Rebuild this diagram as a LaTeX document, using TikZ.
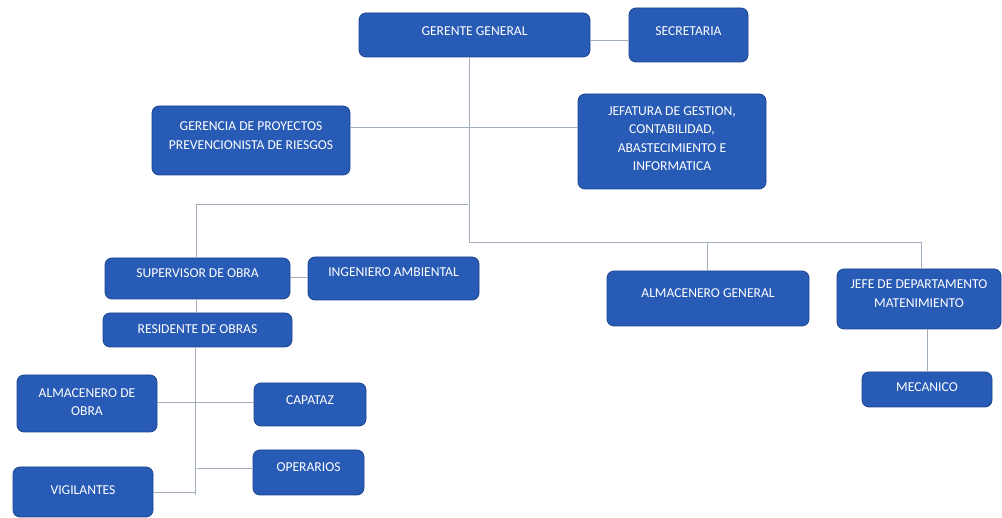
\documentclass[tikz,border=0pt]{standalone}
\usepackage{fontspec}
\setmainfont{Carlito}
\begin{document}
\begin{tikzpicture}[x=1pt,y=-1pt,
  box/.style={draw=boxline,fill=boxfill,rounded corners=7pt,line width=0.8pt,inner sep=0pt},
  txt/.style={text=white,font=\fontsize{13.6}{18.5}\selectfont,align=center,inner sep=0pt},
  conn/.style={draw=linecol,line width=1pt}]
\definecolor{boxfill}{RGB}{40,91,182}
\definecolor{boxline}{RGB}{30,68,140}
\definecolor{linecol}{RGB}{160,174,188}
\useasboundingbox (0,0) rectangle (1002,518);
% boxes
\node[box,minimum width=231pt,minimum height=44pt] (gg) at (474.5,35) {};
\node[box,minimum width=119pt,minimum height=54pt] (sec) at (688.5,35) {};
\node[box,minimum width=198pt,minimum height=69pt] (ger) at (251,140.5) {};
\node[box,minimum width=188pt,minimum height=95pt] (jef) at (672,141.5) {};
\node[box,minimum width=185pt,minimum height=41pt] (sup) at (197.5,278.5) {};
\node[box,minimum width=171pt,minimum height=43pt] (ing) at (393.5,278.5) {};
\node[box,minimum width=189pt,minimum height=34pt] (res) at (197.5,330) {};
\node[box,minimum width=202pt,minimum height=55pt] (alg) at (708,298.5) {};
\node[box,minimum width=164pt,minimum height=60pt] (jdm) at (919,299) {};
\node[box,minimum width=130pt,minimum height=35pt] (mec) at (927,389.5) {};
\node[box,minimum width=140pt,minimum height=57pt] (alo) at (87,403.5) {};
\node[box,minimum width=112pt,minimum height=43pt] (cap) at (310,404.5) {};
\node[box,minimum width=111pt,minimum height=45pt] (ope) at (308.5,472.5) {};
\node[box,minimum width=140pt,minimum height=50pt] (vig) at (83,492) {};
% texts
\node[txt] (ggt) at (474.5,31) {GERENTE GENERAL};
\node[txt] (sect) at (688.5,31) {SECRETARIA};
\node[txt] (gert) at (251,135.5) {GERENCIA DE PROYECTOS\\PREVENCIONISTA DE RIESGOS};
\node[txt] (jeft) at (672,138.5) {JEFATURA DE GESTION,\\CONTABILIDAD,\\ABASTECIMIENTO E\\INFORMATICA};
\node[txt] (supt) at (197.5,273) {SUPERVISOR DE OBRA};
\node[txt] (ingt) at (393.5,272) {INGENIERO AMBIENTAL};
\node[txt] (rest) at (197.5,329) {RESIDENTE DE OBRAS};
\node[txt] (algt) at (708,293) {ALMACENERO GENERAL};
\node[txt] (jdmt) at (919,293.5) {JEFE DE DEPARTAMENTO\\MATENIMIENTO};
\node[txt] (mect) at (927,387) {MECANICO};
\node[txt] (alot) at (87,402) {ALMACENERO DE\\OBRA};
\node[txt] (capt) at (310,400) {CAPATAZ};
\node[txt] (opet) at (308.5,467) {OPERARIOS};
\node[txt] (vigt) at (83,490) {VIGILANTES};
% junction coordinates
\coordinate (tr0) at (469,57);
\coordinate (tr1) at (469,243);
\coordinate (lb0) at (468,205);
\coordinate (lb1) at (196,205);
\coordinate (rb1) at (707,243);
\coordinate (rb2) at (921,243);
\coordinate (st0) at (195,347);
\coordinate (st1) at (195,495);
\coordinate (stc) at (195,403);
\coordinate (sto) at (197,469);
\coordinate (stv) at (195,493);
% connectors
\draw[conn] (gg.east |- 0,41) -- (sec.west |- 0,41);
\draw[conn] (tr0) -- (tr1);
\draw[conn] (ger.east |- 0,128) -- (jef.west |- 0,128);
\draw[conn] (lb0) -- (lb1) -- (sup.north -| lb1);
\draw[conn] (tr1) -- (rb2) -- (jdm.north -| rb2);
\draw[conn] (rb1) -- (alg.north -| rb1);
\draw[conn] (sup.east |- 0,278) -- (ing.west |- 0,278);
\draw[conn] (sup.south -| lb1) -- (res.north -| lb1);
\draw[conn] (st0) -- (st1);
\draw[conn] (alo.east |- stc) -- (cap.west |- stc);
\draw[conn] (sto) -- (ope.west |- sto);
\draw[conn] (vig.east |- stv) -- (stv);
\draw[conn] (jdm.south -| 927,0) -- (mec.north -| 927,0);
\end{tikzpicture}
\end{document}
